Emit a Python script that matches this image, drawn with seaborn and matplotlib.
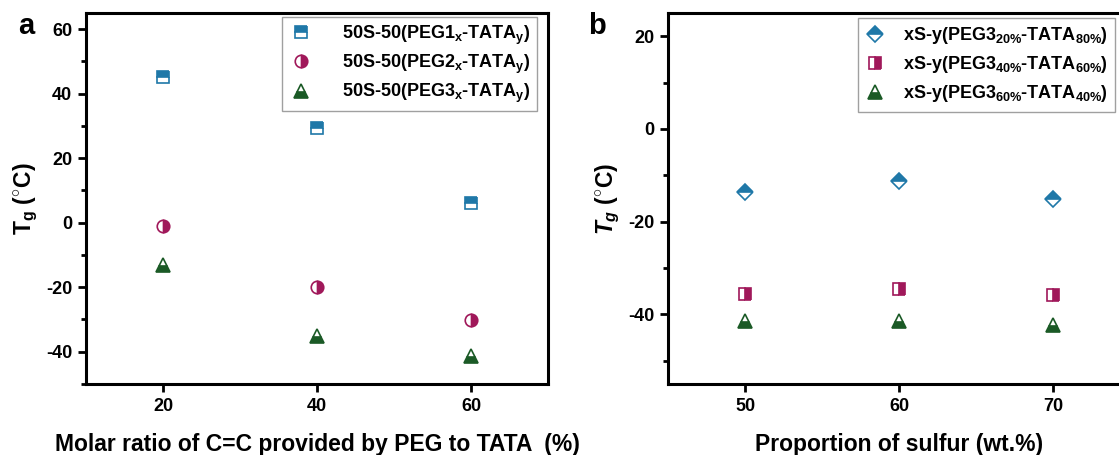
import matplotlib
matplotlib.use("Agg")
import matplotlib.pyplot as plt
import seaborn as sns
import pandas as pd
from matplotlib.ticker import MultipleLocator

sns.set_theme(style="ticks")
plt.rcParams['font.family'] = ['Liberation Sans', 'DejaVu Sans']
plt.rcParams['font.weight'] = 'bold'
plt.rcParams['mathtext.fontset'] = 'custom'
plt.rcParams['mathtext.rm'] = 'Liberation Sans:bold'
plt.rcParams['mathtext.bf'] = 'Liberation Sans:bold'
plt.rcParams['mathtext.it'] = 'Liberation Sans:italic:bold'
plt.rcParams['mathtext.default'] = 'rm'
plt.rcParams['axes.unicode_minus'] = False
for k in ['text.color', 'axes.labelcolor', 'xtick.color', 'ytick.color',
          'axes.edgecolor']:
    plt.rcParams[k] = 'black'

# ---- data panel a ----
ratio_a = [20, 40, 60]
peg1_a = [45.3, 29.2, 6.0]
peg2_a = [-1.0, -20.0, -30.2]
peg3_a = [-13.2, -35.2, -41.3]
labels_a = [r'50S-50(PEG1$_\mathrm{x}$-TATA$_\mathrm{y}$)',
            r'50S-50(PEG2$_\mathrm{x}$-TATA$_\mathrm{y}$)',
            r'50S-50(PEG3$_\mathrm{x}$-TATA$_\mathrm{y}$)']

# ---- data panel b ----
sulfur_b = [50, 60, 70]
peg20_b = [-13.6, -11.3, -15.1]
peg40_b = [-35.5, -34.6, -35.9]
peg60_b = [-41.4, -41.5, -42.2]
labels_b = [r'xS-y(PEG3$_{20\%}$-TATA$_{80\%}$)',
            r'xS-y(PEG3$_{40\%}$-TATA$_{60\%}$)',
            r'xS-y(PEG3$_{60\%}$-TATA$_{40\%}$)']

blue = '#1f78a8'
mag = '#a0185a'
green = '#1b5a26'

fig = plt.figure(figsize=(11.19, 4.55), dpi=100)
W, H = 1119, 455
axa = fig.add_axes([86 / W, (H - 384) / H, 462 / W, 371 / H])
axb = fig.add_axes([668 / W, (H - 384) / H, 462 / W, 371 / H])


def draw(ax, x, y, label, color, marker, fill, ms):
    df = pd.DataFrame({'x': x, 'y': y})
    sns.lineplot(data=df, x='x', y='y', ax=ax, linestyle='', marker=marker,
                 color=color, markersize=ms, fillstyle=fill,
                 markerfacecolor=color, markerfacecoloralt='white',
                 markeredgecolor=color, markeredgewidth=1.2, label=label,
                 legend=False)


draw(axa, ratio_a, peg1_a, labels_a[0], blue, 's', 'top', 8)
draw(axa, ratio_a, peg2_a, labels_a[1], mag, 'o', 'right', 9)
draw(axa, ratio_a, peg3_a, labels_a[2], green, '^', 'bottom', 10)

draw(axb, sulfur_b, peg20_b, labels_b[0], blue, 'D', 'top', 8.5)
draw(axb, sulfur_b, peg40_b, labels_b[1], mag, 's', 'right', 8)
draw(axb, sulfur_b, peg60_b, labels_b[2], green, '^', 'bottom', 10)

for ax in (axa, axb):
    for s in ax.spines.values():
        s.set_linewidth(2.2)
        s.set_color('black')
    ax.tick_params(axis='both', which='major', direction='out', length=6,
                   width=2, labelsize=13, color='black', labelcolor='black',
                   pad=4)
    ax.tick_params(axis='both', which='minor', direction='out', length=3.5,
                   width=2, color='black')
    ax.tick_params(axis='x', which='minor', bottom=False)

axa.set_xlim(10, 70)
axa.set_ylim(-50, 65)
axa.set_xticks([20, 40, 60])
axa.set_yticks([-40, -20, 0, 20, 40, 60])
axa.yaxis.set_minor_locator(MultipleLocator(10))
axa.set_xlabel('Molar ratio of C=C provided by PEG to TATA  (%)', fontsize=16.5,
               fontweight='bold', labelpad=13)
axa.set_ylabel(r'$\mathrm{T_g}$ ($^{\circ}$C)', fontsize=16.5, fontweight='bold',
               labelpad=4)

axb.set_xlim(45, 75)
axb.set_ylim(-55, 25)
axb.set_xticks([50, 60, 70])
axb.set_yticks([-40, -20, 0, 20])
axb.yaxis.set_minor_locator(MultipleLocator(10))
axb.set_xlabel('Proportion of sulfur (wt.%)', fontsize=16.5, fontweight='bold',
               labelpad=13)
axb.set_ylabel(r'$\mathit{T_g}$ ($^{\circ}$C)', fontsize=16.5, fontweight='bold',
               labelpad=4)

for ax in (axa, axb):
    for lab in ax.get_xticklabels() + ax.get_yticklabels():
        lab.set_fontweight('bold')

lega = axa.legend(loc='upper right', bbox_to_anchor=(1 - 11 / 462, 1 - 4 / 371),
                  borderaxespad=0, fontsize=13, frameon=True, fancybox=False,
                  edgecolor='#888888', handletextpad=1.6, labelspacing=0.33,
                  borderpad=0.35, handlelength=1.4)
lega.get_frame().set_linewidth(1.0)
legb = axb.legend(loc='upper right', bbox_to_anchor=(1 - 15 / 462, 1 - 5 / 371),
                  borderaxespad=0, fontsize=13, frameon=True, fancybox=False,
                  edgecolor='#888888', handletextpad=1.0, labelspacing=0.45,
                  borderpad=0.4, handlelength=1.1)
legb.get_frame().set_linewidth(1.0)

fig.text(26 / W, 1 - 26 / H, 'a', fontsize=21, fontweight='bold',
         ha='center', va='center')
fig.text(597 / W, 1 - 26 / H, 'b', fontsize=21, fontweight='bold',
         ha='center', va='center')

fig.savefig('out.png', dpi=100)
